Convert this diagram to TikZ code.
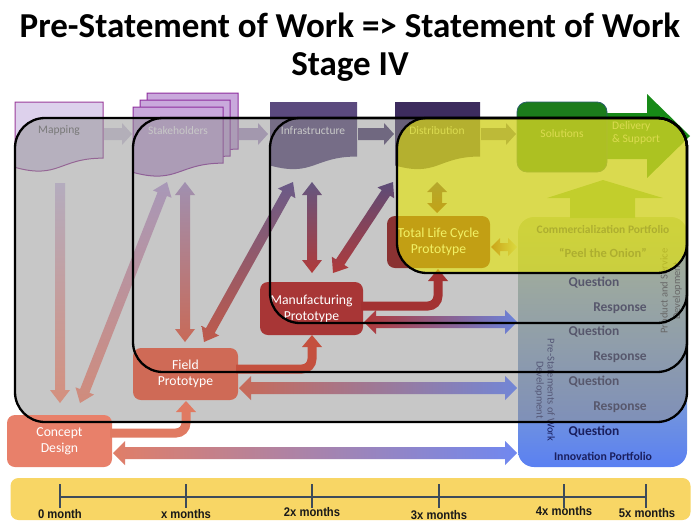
\documentclass[tikz,border=0pt]{standalone}
\usepackage{fontspec}
\setmainfont{Carlito}
\newfontfamily\tlfont[FakeStretch=0.9]{Liberation Sans}
\usetikzlibrary{calc}
\definecolor{mapF}{HTML}{DDD1EC}
\definecolor{mapD}{HTML}{9B3C9B}
\definecolor{stkF}{HTML}{C9A9DC}
\definecolor{stkD}{HTML}{8E2E9E}
\definecolor{infF}{HTML}{5B4A7E}
\definecolor{disF}{HTML}{3D2C5E}
\definecolor{solF}{HTML}{1C7C1C}
\definecolor{solD}{HTML}{2A5F6A}
\definecolor{delG}{HTML}{178A17}
\definecolor{navy}{HTML}{1A1F5E}
\definecolor{qnavy}{HTML}{1E1E48}
\definecolor{panT}{HTML}{C4D898}
\definecolor{panB}{HTML}{5A80F2}
\definecolor{upG}{HTML}{84BE4E}
\definecolor{gov}{gray}{0.57}
\definecolor{yov}{rgb}{0.91,0.91,0}
\definecolor{conF}{HTML}{E8806A}
\definecolor{fldF}{HTML}{CF6A56}
\definecolor{manF}{HTML}{A83636}
\definecolor{tlcF}{HTML}{8A3232}
\definecolor{tlbar}{HTML}{F8D665}
\definecolor{tlline}{HTML}{3D4B5A}
\newcommand\mkc[1]{\definecolor{h#1}{HTML}{#1}}
\mkc{D6CEE2}\mkc{B6A0CC}\mkc{504070}\mkc{6A5A8A}\mkc{B4ACBE}\mkc{D4907E}
\mkc{A898B8}\mkc{D08C7C}\mkc{A090B0}\mkc{C86A58}\mkc{6A5A88}\mkc{C05A4A}
\mkc{645680}\mkc{B03A3A}\mkc{5C4C78}\mkc{6A4A70}\mkc{8A3A3A}\mkc{A04040}
\mkc{C8C8A0}\mkc{B03838}\mkc{6A82DA}\mkc{7286D6}\mkc{E07E68}\mkc{7088F0}
\mkc{E07A62}\mkc{C4503E}\mkc{A33232}

% document shape: style, x0, y0, w, h
\newcommand\docshape[5]{%
  \path[#1] (#2,#3) -- ({#2+#4},#3) -- ({#2+#4},{#3+0.802*#5})
    .. controls ({#2+0.5*#4},{#3+0.802*#5}) and ({#2+0.5*#4},{#3+1.107*#5}) .. (#2,{#3+0.934*#5}) -- cycle;}
% double arrow: style, A, B, half shaft, half head, head length
\newcommand\dblarrow[6]{%
  \path[#1] (#2) -- ($(#2)!#6!(#3)!#5!90:(#3)$) -- ($(#2)!#6!(#3)!#4!90:(#3)$)
    -- ($(#3)!#6!(#2)!#4!-90:(#2)$) -- ($(#3)!#6!(#2)!#5!-90:(#2)$) -- (#3)
    -- ($(#3)!#6!(#2)!#5!90:(#2)$) -- ($(#3)!#6!(#2)!#4!90:(#2)$)
    -- ($(#2)!#6!(#3)!#4!-90:(#3)$) -- ($(#2)!#6!(#3)!#5!-90:(#3)$) -- cycle;}
% single arrow: style, tail, tip, half shaft, half head, head length
\newcommand\sglarrow[6]{%
  \path[#1] ($(#2)!#4!90:(#3)$) -- ($(#3)!#6!(#2)!#4!-90:(#2)$) -- ($(#3)!#6!(#2)!#5!-90:(#2)$)
    -- (#3) -- ($(#3)!#6!(#2)!#5!90:(#2)$) -- ($(#3)!#6!(#2)!#4!90:(#2)$)
    -- ($(#2)!#4!-90:(#3)$) -- cycle;}

\begin{document}
\begin{tikzpicture}[x=1pt,y=-1pt,
  lbl/.style={font=\fontsize{11.5}{13.5}\selectfont, inner sep=0pt},
  pbox/.style={rounded corners=8pt, text=white, font=\fontsize{13.7}{16}\selectfont, align=center, inner sep=0pt},
  qr/.style={font=\fontsize{13.5}{16}\selectfont\bfseries, text=qnavy, inner sep=0pt},
  frame/.style={draw=black, line width=2.3pt, rounded corners=30pt},
  tick/.style={draw=tlline, line width=1.2pt},
  tll/.style={font=\tlfont\fontsize{12.5}{14}\selectfont\bfseries, text=black!90, inner sep=0pt},
]
\path[fill=white] (0,0) rectangle (700,525);

% title
\node[font=\fontsize{35}{42}\selectfont\bfseries, anchor=base, inner sep=0pt] (title1) at (350,37) {Pre-Statement of Work => Statement of Work};
\node[font=\fontsize{35}{42}\selectfont\bfseries, anchor=base, inner sep=0pt] (title2) at (350,75) {Stage IV};

% ---- top row
\path[fill=delG] (606,113) -- (647,113) -- (647,94) -- (690,136) -- (647,178) -- (647,159) -- (606,159) -- cycle;
\node[fill=solF, draw=solD, line width=0.8pt, rounded corners=10pt, minimum width=90pt, minimum height=70pt, inner sep=0pt] (sol) at (562,137) {};
\node[lbl, text=white] (soltext) at (562,134) {Solutions};
\node[lbl, text=white, anchor=west, align=left] (deliv) at (612,133) {Delivery\\\& Support};

\docshape{fill=mapF, draw=mapD, line width=1pt}{15}{102}{88}{70}
\node[lbl, text=black!62] (mapping) at (59,131) {Mapping};
\docshape{fill=stkF, draw=stkD, line width=1pt}{147}{93}{91}{70}
\docshape{fill=stkF, draw=stkD, line width=1pt}{140}{100}{90}{70}
\docshape{fill=stkF, draw=stkD, line width=1pt}{133}{107}{90}{70}
\node[lbl, text=white] (stake) at (178,131) {Stakeholders};
\docshape{fill=infF}{270}{102}{87}{68}
\node[lbl, text=white] (infra) at (313,131) {Infrastructure};
\docshape{fill=disF}{395}{102}{85}{68}
\node[lbl, text=white] (dist) at (437,131) {Distribution};

\coordinate (ta1) at (104,134); \coordinate (ta2) at (132,134);
\coordinate (tb1) at (239,134); \coordinate (tb2) at (268,134);
\coordinate (tc1) at (358,134); \coordinate (tc2) at (394,134);
\coordinate (td1) at (481,134); \coordinate (td2) at (516,134);
\sglarrow{fill=hD6CEE2}{ta1}{ta2}{6pt}{11pt}{10pt}
\sglarrow{fill=hB6A0CC}{tb1}{tb2}{6pt}{11pt}{10pt}
\sglarrow{fill=h504070}{tc1}{tc2}{6pt}{11pt}{10pt}
\sglarrow{fill=h6A5A8A}{td1}{td2}{6pt}{11pt}{10pt}

% ---- portfolio panel
\node[shade, top color=panT, bottom color=panB, rounded corners=16pt, minimum width=169pt, minimum height=250pt, inner sep=0pt] (panel) at (602.5,342) {};
\path[fill=upG] (570,218) -- (570,198) -- (547,198) -- (603,180) -- (663,198) -- (635,198) -- (635,218) -- cycle;
\node[font=\fontsize{11.5}{13}\selectfont\bfseries, text=navy, inner sep=0pt] (comm) at (603,229) {Commercialization Portfolio};
\node[font=\fontsize{12.5}{14}\selectfont\bfseries, text=navy, inner sep=0pt] (peel) at (603,253) {“Peel the Onion”};
\node[qr] (q1) at (594,283) {Question};
\node[qr] (r1) at (620,308) {Response};
\node[qr] (q2) at (594,332) {Question};
\node[qr] (r2) at (620,357) {Response};
\node[qr] (q3) at (594,382) {Question};
\node[qr] (r3) at (620,407) {Response};
\node[qr, text=navy] (q4) at (594,432) {Question};
\node[font=\fontsize{11.8}{13}\selectfont\bfseries, text=navy, inner sep=0pt] (innov) at (603,456) {Innovation Portfolio};
\node[rotate=90, align=center, font=\fontsize{10.5}{12.5}\selectfont, text=black!75, inner sep=0pt] (psd) at (671,291) {Product and Service\\Development};
\node[rotate=-90, align=center, font=\fontsize{10.5}{11}\selectfont, text=navy, inner sep=0pt] (psw) at (545,390) {Pre-Statements of Work\\Development};

% ---- gray overlay
\path[fill=gov, fill opacity=0.5, rounded corners=30pt] (15,118) rectangle (687,422);

% ---- gradient arrows
\coordinate (a1) at (60,183);  \coordinate (a2) at (60,403);
\sglarrow{shade, top color=hB4ACBE, bottom color=hD4907E}{a1}{a2}{5pt}{10pt}{13pt}
\coordinate (b1) at (167,182); \coordinate (b2) at (80,403);
\dblarrow{shade, top color=hA898B8, bottom color=hD08C7C}{b1}{b2}{5pt}{10pt}{13pt}
\coordinate (c1) at (185,182); \coordinate (c2) at (185,342);
\dblarrow{shade, top color=hA090B0, bottom color=hC86A58}{c1}{c2}{5pt}{10pt}{13pt}
\coordinate (d1) at (293,182); \coordinate (d2) at (204,342);
\dblarrow{shade, top color=h6A5A88, bottom color=hC05A4A}{d1}{d2}{5pt}{10pt}{13pt}
\coordinate (e1) at (312,182); \coordinate (e2) at (312,273);
\dblarrow{shade, top color=h645680, bottom color=hB03A3A}{e1}{e2}{5pt}{10pt}{13pt}
\coordinate (f1) at (393,182); \coordinate (f2) at (333,273);
\dblarrow{shade, top color=h5C4C78, bottom color=hB03A3A}{f1}{f2}{5pt}{10pt}{13pt}
\coordinate (g1) at (437,182); \coordinate (g2) at (437,213);
\dblarrow{shade, top color=h6A4A70, bottom color=h8A3A3A}{g1}{g2}{5pt}{10pt}{10pt}
\coordinate (h1) at (491,247); \coordinate (h2) at (517,247);
\dblarrow{shade, left color=hA04040, right color=hC8C8A0}{h1}{h2}{4pt}{9pt}{9pt}
\coordinate (i1) at (364,322); \coordinate (i2) at (517,322);
\dblarrow{shade, left color=hB03838, right color=h6A82DA}{i1}{i2}{6pt}{12pt}{12pt}
\coordinate (j1) at (239,388); \coordinate (j2) at (517,388);
\dblarrow{shade, left color=hC86A58, right color=h7286D6}{j1}{j2}{6pt}{12pt}{12pt}
\coordinate (k1) at (113,453); \coordinate (k2) at (517,453);
\dblarrow{shade, left color=hE07E68, right color=h7088F0}{k1}{k2}{6pt}{12pt}{12pt}

% ---- prototype boxes
\node[pbox, fill=conF, minimum width=105pt, minimum height=52pt] (concept) at (59.5,441) {Concept\\Design};
\node[pbox, fill=fldF, minimum width=105pt, minimum height=52pt] (field) at (185.5,374) {Field\\Prototype};
\node[pbox, fill=manF, minimum width=103pt, minimum height=53pt] (manu) at (311.5,308.5) {Manufacturing\\Prototype};
\node[pbox, fill=tlcF, minimum width=103pt, minimum height=52pt] (tlc) at (438.5,242) {Total Life Cycle\\Prototype};

% ---- elbow arrows
\coordinate (el1) at (186,412); \coordinate (el1t) at (186,401);
\draw[line width=9pt, color=hE07A62, rounded corners=10pt] ($(concept.east)+(-2,-8)$) -- (186,433) -- (el1);
\fill[hE07A62] (176,412) -- (196,412) -- (el1t) -- cycle;
\coordinate (el2) at (312,347); \coordinate (el2t) at (312,335);
\draw[line width=9pt, color=hC4503E, rounded corners=10pt] ($(field.east)+(-2,-5)$) -- (312,369) -- (el2);
\fill[hC4503E] (302,347) -- (322,347) -- (el2t) -- cycle;
\coordinate (el3) at (438,281); \coordinate (el3t) at (438,269);
\draw[line width=9pt, color=hA33232, rounded corners=10pt] ($(manu.east)+(-2,-2.5)$) -- (438,306) -- (el3);
\fill[hA33232] (428,281) -- (448,281) -- (el3t) -- cycle;

% ---- yellow overlay
\path[fill=yov, fill opacity=0.6, rounded corners=30pt] (397,118) rectangle (687,273);

% ---- frames
\path[frame] (15,118) rectangle (687,422);
\path[frame] (133,118) rectangle (687,372);
\path[frame] (270,118) rectangle (687,323);
\path[frame] (397,118) rectangle (687,273);

% ---- timeline
\node[fill=tlbar, rounded corners=8pt, minimum width=680pt, minimum height=42pt, inner sep=0pt] (tl) at (350.5,499) {};
\coordinate (t0) at (60,497); \coordinate (t5) at (646,497);
\draw[tick] (t0) -- (t5);
\foreach \x in {60,186,312,439,564,646} { \draw[tick] (\x,484) -- (\x,508); }
\node[tll] (l0) at (60,514) {0 month};
\node[tll] (l1) at (186,514) {x months};
\node[tll] (l2) at (312,512) {2x months};
\node[tll] (l3) at (439,515) {3x months};
\node[tll] (l4) at (564,511) {4x months};
\node[tll] (l5) at (647,513) {5x months};
\end{tikzpicture}
\end{document}
